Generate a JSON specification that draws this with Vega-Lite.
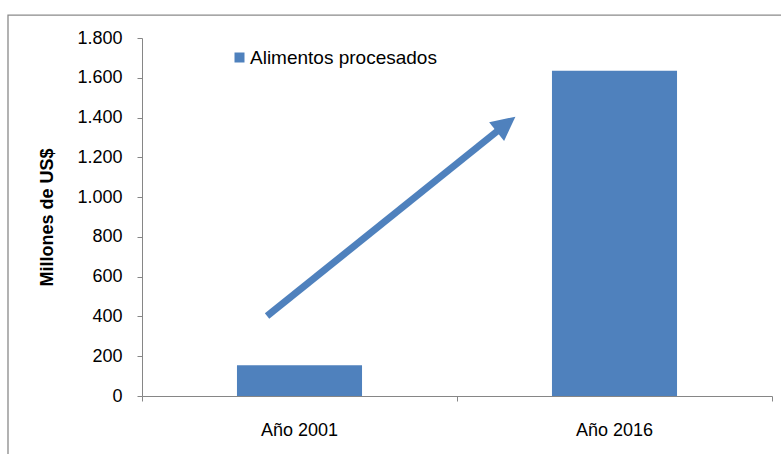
{
  "$schema": "https://vega.github.io/schema/vega-lite/v6.json",
  "width": 630,
  "height": 358,
  "autosize": {"type": "none"},
  "padding": {"left": 142, "top": 38, "right": 9, "bottom": 58},
  "background": "white",
  "config": {
    "locale": {"number": {"decimal": ",", "thousands": ".", "grouping": [3], "currency": ["", " US$"]}},
    "view": {"stroke": null},
    "font": "Liberation Sans",
    "axisY": {
      "titleFontSize": 18, "titleFontWeight": "bold", "titleColor": "#000000",
      "titlePadding": 20, "labelOverlap": false, "labelFontSize": 18, "labelColor": "#000000", "labelPadding": 15,
      "grid": false, "tickSize": 5, "tickColor": "#868686", "domainColor": "#868686",
      "labelFont": "Liberation Sans", "titleFont": "Liberation Sans", "format": ",.0f"
    }
  },
  "datasets": {
    "bars": [
      {"anio": "Año 2001", "valor": 155, "serie": "Alimentos procesados"},
      {"anio": "Año 2016", "valor": 1635, "serie": "Alimentos procesados"}
    ],
    "arrow": [
      {"x": 0.397, "y": 402, "x2": 1.1556, "y2": 1367}
    ]
  },
  "layer": [
    {
      "data": {"name": "bars"},
      "mark": {"type": "bar"},
      "encoding": {
        "x": {
          "field": "anio", "type": "nominal", "sort": null,
          "scale": {"paddingInner": 0.603, "paddingOuter": 0.3015},
          "axis": {
            "orient": "bottom", "title": null, "labelAngle": 0, "labelFontSize": 18, "labelColor": "#000000",
            "labelPadding": 25, "ticks": false, "domain": false, "labelFont": "Liberation Sans"
          }
        },
        "y": {
          "field": "valor", "type": "quantitative",
          "scale": {"domain": [0, 1800], "nice": false},
          "axis": {"title": "Millones de US$", "values": [0, 200, 400, 600, 800, 1000, 1200, 1400, 1600, 1800], "format": ",.0f", "labelOverlap": false}
        },
        "color": {
          "field": "serie", "type": "nominal",
          "scale": {"range": ["#4F81BD"]},
          "legend": {
            "title": null, "orient": "none", "legendX": 88, "legendY": 10,
            "symbolType": "square", "symbolSize": 100, "symbolStrokeWidth": 0,
            "labelFontSize": 19, "labelColor": "#000000", "labelOffset": 1, "padding": 0, "labelLimit": 0,
            "labelFont": "Liberation Sans"
          }
        }
      }
    },
    {
      "data": {"values": [{}]},
      "mark": {"type": "rect", "fill": null, "stroke": "#8a8a8a", "strokeWidth": 1.3, "clip": false},
      "encoding": {
        "x": {"datum": -0.4254, "type": "quantitative", "scale": {"domain": [0, 2], "nice": false, "zero": false},
          "axis": {"values": [0, 1, 2], "labels": false, "title": null, "grid": false, "tickSize": 5, "tickColor": "#868686", "domainColor": "#868686", "orient": "bottom"}},
        "x2": {"datum": 2.1},
        "y": {"datum": -340, "type": "quantitative", "scale": {"domain": [0, 1800], "nice": false},
          "axis": {"title": "Millones de US$", "values": [0, 200, 400, 600, 800, 1000, 1200, 1400, 1600, 1800], "format": ",.0f", "labelOverlap": false}},
        "y2": {"datum": 1915}
      }
    },
    {
      "data": {"name": "arrow"},
      "mark": {"type": "rule", "color": "#4F81BD", "strokeWidth": 7, "strokeCap": "butt"},
      "encoding": {
        "x": {"field": "x", "type": "quantitative", "scale": {"domain": [0, 2], "nice": false, "zero": false}, "axis": null},
        "x2": {"field": "x2"},
        "y": {"field": "y", "type": "quantitative", "scale": {"domain": [0, 1800], "nice": false},
          "axis": {"title": "Millones de US$", "values": [0, 200, 400, 600, 800, 1000, 1200, 1400, 1600, 1800], "format": ",.0f", "labelOverlap": false}},
        "y2": {"field": "y2"}
      }
    },
    {
      "data": {"name": "arrow"},
      "mark": {"type": "point", "shape": "M0,-1L1,1L-1,1Z", "filled": true, "color": "#4F81BD", "opacity": 1, "size": 576, "angle": 51.5, "strokeWidth": 0},
      "encoding": {
        "x": {"field": "x2", "type": "quantitative", "scale": {"domain": [0, 2], "nice": false, "zero": false}, "axis": null},
        "y": {"field": "y2", "type": "quantitative", "scale": {"domain": [0, 1800], "nice": false},
          "axis": {"title": "Millones de US$", "values": [0, 200, 400, 600, 800, 1000, 1200, 1400, 1600, 1800], "format": ",.0f", "labelOverlap": false}}
      }
    }
  ],
  "resolve": {"scale": {"x": "independent"}, "axis": {"x": "independent"}}
}
